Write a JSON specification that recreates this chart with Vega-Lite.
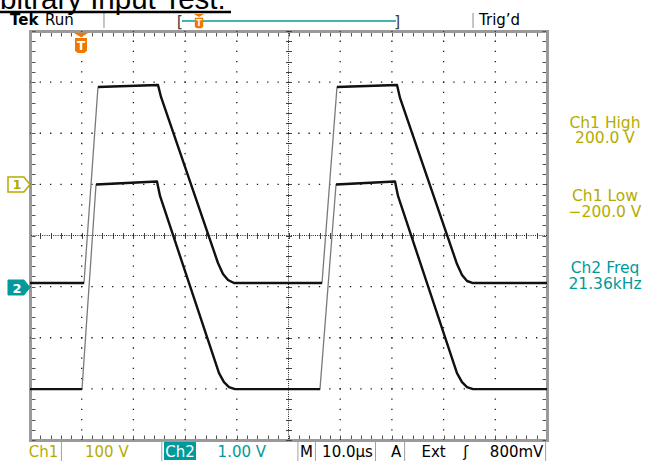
{
  "$schema": "https://vega.github.io/schema/vega-lite/v6.json",
  "width": 517,
  "height": 409,
  "autosize": {"type": "none"},
  "padding": {"left": 30, "top": 31, "right": 100, "bottom": 21},
  "background": "white",
  "config": {"view": {"stroke": null}},
  "datasets": {
    "traces": [
      {"ch": "Ch2", "part": "p0", "t": 0, "v": -0.93},
      {"ch": "Ch2", "part": "p0", "t": 1.044, "v": -0.93},
      {"ch": "Ch2", "part": "p1", "t": 1.315, "v": 2.906},
      {"ch": "Ch2", "part": "p1", "t": 2.476, "v": 2.945},
      {"ch": "Ch2", "part": "p1", "t": 2.534, "v": 2.71},
      {"ch": "Ch2", "part": "p1", "t": 3.636, "v": -0.538},
      {"ch": "Ch2", "part": "p1", "t": 3.733, "v": -0.753},
      {"ch": "Ch2", "part": "p1", "t": 3.83, "v": -0.871},
      {"ch": "Ch2", "part": "p1", "t": 3.946, "v": -0.93},
      {"ch": "Ch2", "part": "p1", "t": 5.648, "v": -0.93},
      {"ch": "Ch2", "part": "p2", "t": 5.938, "v": 2.906},
      {"ch": "Ch2", "part": "p2", "t": 7.099, "v": 2.945},
      {"ch": "Ch2", "part": "p2", "t": 7.157, "v": 2.691},
      {"ch": "Ch2", "part": "p2", "t": 8.259, "v": -0.558},
      {"ch": "Ch2", "part": "p2", "t": 8.356, "v": -0.773},
      {"ch": "Ch2", "part": "p2", "t": 8.453, "v": -0.89},
      {"ch": "Ch2", "part": "p2", "t": 8.569, "v": -0.93},
      {"ch": "Ch2", "part": "p2", "t": 10, "v": -0.93},
      {"ch": "Ch1", "part": "p0", "t": 0, "v": -3.004},
      {"ch": "Ch1", "part": "p0", "t": 1.006, "v": -3.004},
      {"ch": "Ch1", "part": "p1", "t": 1.277, "v": 0.998},
      {"ch": "Ch1", "part": "p1", "t": 2.456, "v": 1.057},
      {"ch": "Ch1", "part": "p1", "t": 2.515, "v": 0.773},
      {"ch": "Ch1", "part": "p1", "t": 3.656, "v": -2.691},
      {"ch": "Ch1", "part": "p1", "t": 3.752, "v": -2.867},
      {"ch": "Ch1", "part": "p1", "t": 3.849, "v": -2.965},
      {"ch": "Ch1", "part": "p1", "t": 3.965, "v": -3.004},
      {"ch": "Ch1", "part": "p1", "t": 5.609, "v": -3.004},
      {"ch": "Ch1", "part": "p2", "t": 5.919, "v": 0.998},
      {"ch": "Ch1", "part": "p2", "t": 7.06, "v": 1.057},
      {"ch": "Ch1", "part": "p2", "t": 7.118, "v": 0.773},
      {"ch": "Ch1", "part": "p2", "t": 8.259, "v": -2.691},
      {"ch": "Ch1", "part": "p2", "t": 8.356, "v": -2.867},
      {"ch": "Ch1", "part": "p2", "t": 8.453, "v": -2.965},
      {"ch": "Ch1", "part": "p2", "t": 8.569, "v": -3.004},
      {"ch": "Ch1", "part": "p2", "t": 10, "v": -3.004}
    ],
    "gridX": [{"t": 1}, {"t": 2}, {"t": 3}, {"t": 4}, {"t": 6}, {"t": 7}, {"t": 8}, {"t": 9}],
    "gridY": [{"v": -3}, {"v": -2}, {"v": -1}, {"v": 1}, {"v": 2}, {"v": 3}],
    "centerX": [{"t": 5}],
    "centerY": [{"v": 0}],
    "readouts": [
      {"txt": "Ch1 High", "t": 11.122, "v": 2.103, "kind": "ch1"},
      {"txt": "200.0 V", "t": 11.122, "v": 1.809, "kind": "ch1"},
      {"txt": "Ch1 Low", "t": 11.122, "v": 0.675, "kind": "ch1"},
      {"txt": "−200.0 V", "t": 11.122, "v": 0.362, "kind": "ch1"},
      {"txt": "Ch2 Freq", "t": 11.122, "v": -0.733, "kind": "ch2"},
      {"txt": "21.36kHz", "t": 11.122, "v": -1.046, "kind": "ch2"}
    ],
    "labels": [
      {"txt": "Ch1", "t": 0.261, "v": -4.342, "kind": "ch1"},
      {"txt": "100 V", "t": 1.486, "v": -4.342, "kind": "ch1"},
      {"txt": "Ch2", "t": 2.901, "v": -4.342, "kind": "inv"},
      {"txt": "1.00 V", "t": 4.097, "v": -4.342, "kind": "ch2"},
      {"txt": "M", "t": 5.348, "v": -4.342, "kind": "sys"},
      {"txt": "10.0µs", "t": 6.141, "v": -4.342, "kind": "sys"},
      {"txt": "A", "t": 7.08, "v": -4.342, "kind": "sys"},
      {"txt": "Ext", "t": 7.806, "v": -4.342, "kind": "sys"},
      {"txt": "ʃ", "t": 8.43, "v": -4.342, "kind": "sys"},
      {"txt": "800mV", "t": 9.412, "v": -4.342, "kind": "sys"}
    ],
    "markerText": [
      {"txt": "1", "t": -0.251, "v": 0.91, "kind": "ch1"},
      {"txt": "2", "t": -0.251, "v": -1.115, "kind": "inv"}
    ],
    "chMarkers": [
      {"ch": "1", "t": -0.213, "v": 0.998},
      {"ch": "2", "t": -0.213, "v": -1.017}
    ],
    "logo": [{"txt": "Tek", "t": -0.387, "v": 4.108}],
    "header": [
      {"txt": "Run", "t": 0.29, "v": 4.108},
      {"txt": "Trig’d", "t": 8.685, "v": 4.108}
    ],
    "brackets": [
      {"txt": "[", "t": 2.901, "v": 4.088},
      {"txt": "]", "t": 7.099, "v": 4.088}
    ],
    "topSeps": [{"t": 1.431}, {"t": 8.569}],
    "botSeps": [{"t": 0.608}, {"t": 2.549}, {"t": 5.182}, {"t": 5.521}, {"t": 6.683}, {"t": 7.246}, {"t": 9.973}],
    "title": [{"txt": "bitrary Input Test:", "t": -0.58, "v": 4.44}],
    "trigger": [{"where": "plot", "t": 0.986}, {"where": "record", "t": 3.269}]
  },
  "layer": [
    {
      "data": {"name": "gridX"},
      "mark": {"type": "rule", "color": "#1a1a1a", "strokeWidth": 1.3, "strokeDash": [1.3, 8.925], "strokeDashOffset": 0.65},
      "encoding": {
        "x": {"field": "t", "type": "quantitative", "scale": {"domain": [0, 10], "nice": false, "zero": false},
          "axis": {"orient": "top", "values": [0,0.2,0.4,0.6,0.8,1,1.2,1.4,1.6,1.8,2,2.2,2.4,2.6,2.8,3,3.2,3.4,3.6,3.8,4,4.2,4.4,4.6,4.8,5,5.2,5.4,5.6,5.8,6,6.2,6.4,6.6,6.8,7,7.2,7.4,7.6,7.8,8,8.2,8.4,8.6,8.8,9,9.2,9.4,9.6,9.8,10], "tickSize": -5, "tickColor": "#555555", "tickWidth": 1, "domain": true, "domainColor": "#9a9a9a", "domainWidth": 3, "domainCap": "square", "labels": false, "grid": false, "title": null}}
      }
    },
    {
      "data": {"name": "gridY"},
      "mark": {"type": "rule", "color": "#1a1a1a", "strokeWidth": 1.3, "strokeDash": [1.3, 9.04], "strokeDashOffset": 0.65},
      "encoding": {
        "y": {"field": "v", "type": "quantitative", "scale": {"domain": [-4, 4], "nice": false, "zero": false},
          "axis": {"orient": "right", "values": [-4,-3.8,-3.6,-3.4,-3.2,-3,-2.8,-2.6,-2.4,-2.2,-2,-1.8,-1.6,-1.4,-1.2,-1,-0.8,-0.6,-0.4,-0.2,0,0.2,0.4,0.6,0.8,1,1.2,1.4,1.6,1.8,2,2.2,2.4,2.6,2.8,3,3.2,3.4,3.6,3.8,4], "tickSize": -5, "tickColor": "#555555", "tickWidth": 1, "domain": true, "domainColor": "#9a9a9a", "domainWidth": 3, "domainCap": "square", "labels": false, "grid": false, "title": null}}
      }
    },
    {
      "data": {"name": "centerX"},
      "mark": {"type": "rule", "color": "#222222", "strokeWidth": 1, "strokeDash": [1, 1.2]},
      "encoding": {
        "x": {"field": "t", "type": "quantitative", "scale": {"domain": [0, 10], "nice": false, "zero": false},
          "axis": {"orient": "bottom", "offset": -204.5, "values": [0,0.2,0.4,0.6,0.8,1,1.2,1.4,1.6,1.8,2,2.2,2.4,2.6,2.8,3,3.2,3.4,3.6,3.8,4,4.2,4.4,4.6,4.8,5,5.2,5.4,5.6,5.8,6,6.2,6.4,6.6,6.8,7,7.2,7.4,7.6,7.8,8,8.2,8.4,8.6,8.8,9,9.2,9.4,9.6,9.8,10], "tickSize": 3, "tickColor": "#444444", "tickWidth": 1, "domain": false, "labels": false, "grid": false, "title": null}}
      }
    },
    {
      "data": {"name": "centerY"},
      "mark": {"type": "rule", "color": "#222222", "strokeWidth": 1, "strokeDash": [1, 1.2]},
      "encoding": {
        "y": {"field": "v", "type": "quantitative", "scale": {"domain": [-4, 4], "nice": false, "zero": false},
          "axis": {"orient": "left", "offset": -258.5, "values": [-4,-3.8,-3.6,-3.4,-3.2,-3,-2.8,-2.6,-2.4,-2.2,-2,-1.8,-1.6,-1.4,-1.2,-1,-0.8,-0.6,-0.4,-0.2,0,0.2,0.4,0.6,0.8,1,1.2,1.4,1.6,1.8,2,2.2,2.4,2.6,2.8,3,3.2,3.4,3.6,3.8,4], "tickSize": 3, "tickColor": "#444444", "tickWidth": 1, "domain": false, "labels": false, "grid": false, "title": null}}
      }
    },
    {
      "data": {"name": "traces"},
      "mark": {"type": "line", "color": "#7a7a7a", "strokeWidth": 1.3, "strokeJoin": "round"},
      "encoding": {
        "x": {"field": "t", "type": "quantitative", "scale": {"domain": [0, 10], "nice": false, "zero": false},
          "axis": {"orient": "bottom", "values": [0,0.2,0.4,0.6,0.8,1,1.2,1.4,1.6,1.8,2,2.2,2.4,2.6,2.8,3,3.2,3.4,3.6,3.8,4,4.2,4.4,4.6,4.8,5,5.2,5.4,5.6,5.8,6,6.2,6.4,6.6,6.8,7,7.2,7.4,7.6,7.8,8,8.2,8.4,8.6,8.8,9,9.2,9.4,9.6,9.8,10], "tickSize": -5, "tickColor": "#555555", "tickWidth": 1, "domain": true, "domainColor": "#9a9a9a", "domainWidth": 3, "domainCap": "square", "labels": false, "grid": false, "title": null}},
        "y": {"field": "v", "type": "quantitative", "scale": {"domain": [-4, 4], "nice": false, "zero": false},
          "axis": {"orient": "left", "values": [-4,-3.8,-3.6,-3.4,-3.2,-3,-2.8,-2.6,-2.4,-2.2,-2,-1.8,-1.6,-1.4,-1.2,-1,-0.8,-0.6,-0.4,-0.2,0,0.2,0.4,0.6,0.8,1,1.2,1.4,1.6,1.8,2,2.2,2.4,2.6,2.8,3,3.2,3.4,3.6,3.8,4], "tickSize": -5, "tickColor": "#555555", "tickWidth": 1, "domain": true, "domainColor": "#9a9a9a", "domainWidth": 3, "domainCap": "square", "labels": false, "grid": false, "title": null}},
        "detail": {"field": "ch"}
      }
    },
    {
      "data": {"name": "traces"},
      "mark": {"type": "line", "color": "#111111", "strokeWidth": 2.4, "strokeJoin": "round"},
      "encoding": {
        "x": {"field": "t", "type": "quantitative", "axis": null},
        "y": {"field": "v", "type": "quantitative", "axis": null},
        "detail": [{"field": "ch"}, {"field": "part"}]
      }
    },
    {
      "data": {"name": "chMarkers"},
      "transform": [{"filter": "datum.ch == '1'"}],
      "mark": {"type": "point", "shape": "M-1,-0.68L0.45,-0.68L1,0L0.45,0.68L-1,0.68Z", "size": 484, "filled": true, "fill": "#ffffff", "stroke": "#b4ac00", "strokeWidth": 1.5, "opacity": 1},
      "encoding": {
        "x": {"field": "t", "type": "quantitative",
          "axis": {"orient": "top", "offset": -204.5, "values": [0,0.2,0.4,0.6,0.8,1,1.2,1.4,1.6,1.8,2,2.2,2.4,2.6,2.8,3,3.2,3.4,3.6,3.8,4,4.2,4.4,4.6,4.8,5,5.2,5.4,5.6,5.8,6,6.2,6.4,6.6,6.8,7,7.2,7.4,7.6,7.8,8,8.2,8.4,8.6,8.8,9,9.2,9.4,9.6,9.8,10], "tickSize": 3, "tickColor": "#444444", "tickWidth": 1, "domain": false, "labels": false, "grid": false, "title": null}},
        "y": {"field": "v", "type": "quantitative",
          "axis": {"orient": "right", "offset": -258.5, "values": [-4,-3.8,-3.6,-3.4,-3.2,-3,-2.8,-2.6,-2.4,-2.2,-2,-1.8,-1.6,-1.4,-1.2,-1,-0.8,-0.6,-0.4,-0.2,0,0.2,0.4,0.6,0.8,1,1.2,1.4,1.6,1.8,2,2.2,2.4,2.6,2.8,3,3.2,3.4,3.6,3.8,4], "tickSize": 3, "tickColor": "#444444", "tickWidth": 1, "domain": false, "labels": false, "grid": false, "title": null}}
      }
    },
    {
      "data": {"name": "chMarkers"},
      "transform": [{"filter": "datum.ch == '2'"}],
      "mark": {"type": "point", "shape": "M-1,-0.68L0.45,-0.68L1,0L0.45,0.68L-1,0.68Z", "size": 484, "filled": true, "fill": "#009a9a", "stroke": "#009a9a", "strokeWidth": 1, "opacity": 1},
      "encoding": {
        "x": {"field": "t", "type": "quantitative", "axis": null},
        "y": {"field": "v", "type": "quantitative", "axis": null}
      }
    },
    {
      "data": {"name": "trigger"},
      "transform": [{"filter": "datum.where == 'plot'"}],
      "mark": {"type": "point", "shape": "M-1,-0.3L1,-0.3L0,0.3Z", "size": 225, "filled": true, "color": "#f07800", "opacity": 1},
      "encoding": {
        "x": {"field": "t", "type": "quantitative", "axis": null},
        "y": {"datum": 3.922, "type": "quantitative", "axis": null}
      }
    },
    {
      "data": {"name": "trigger"},
      "transform": [{"filter": "datum.where == 'plot'"}],
      "mark": {"type": "point", "shape": "M-0.8,-1L0.8,-1L0.8,0.7L0.45,1L-0.45,1L-0.8,0.7Z", "size": 225, "filled": true, "color": "#f07800", "opacity": 1},
      "encoding": {
        "x": {"field": "t", "type": "quantitative", "axis": null},
        "y": {"datum": 3.716, "type": "quantitative", "axis": null}
      }
    },
    {
      "data": {"name": "trigger"},
      "transform": [{"filter": "datum.where == 'plot'"}],
      "mark": {"type": "text", "text": "T", "font": "DejaVu Sans", "fontWeight": "bold", "fontSize": 12, "align": "center", "baseline": "alphabetic", "color": "#ffffff"},
      "encoding": {
        "x": {"field": "t", "type": "quantitative", "axis": null},
        "y": {"datum": 3.619, "type": "quantitative", "axis": null}
      }
    },
    {
      "data": {"name": "topSeps"},
      "mark": {"type": "rule", "color": "#8c8c8c", "strokeWidth": 1},
      "encoding": {
        "x": {"field": "t", "type": "quantitative", "axis": null},
        "y": {"datum": 4.352, "type": "quantitative", "axis": null},
        "y2": {"datum": 4.059}
      }
    },
    {
      "data": {"values": [{}]},
      "mark": {"type": "rule", "color": "#009a9a", "strokeWidth": 1.5},
      "encoding": {
        "x": {"datum": 2.94, "type": "quantitative", "axis": null},
        "x2": {"datum": 7.079},
        "y": {"datum": 4.195, "type": "quantitative", "axis": null}
      }
    },
    {
      "data": {"name": "brackets"},
      "mark": {"type": "text", "font": "DejaVu Sans", "fontSize": 16, "align": "center", "baseline": "alphabetic", "color": "#444444"},
      "encoding": {
        "x": {"field": "t", "type": "quantitative", "axis": null},
        "y": {"field": "v", "type": "quantitative", "axis": null},
        "text": {"field": "txt"}
      }
    },
    {
      "data": {"name": "trigger"},
      "transform": [{"filter": "datum.where == 'record'"}],
      "mark": {"type": "point", "shape": "M-1,-0.3L1,-0.3L0,0.3Z", "size": 100, "filled": true, "color": "#f07800", "opacity": 1},
      "encoding": {
        "x": {"field": "t", "type": "quantitative", "axis": null},
        "y": {"datum": 4.303, "type": "quantitative", "axis": null}
      }
    },
    {
      "data": {"name": "trigger"},
      "transform": [{"filter": "datum.where == 'record'"}],
      "mark": {"type": "point", "shape": "M-0.8,-1L0.8,-1L0.8,0.7L0.45,1L-0.45,1L-0.8,0.7Z", "size": 110, "filled": true, "color": "#f07800", "opacity": 1},
      "encoding": {
        "x": {"field": "t", "type": "quantitative", "axis": null},
        "y": {"datum": 4.156, "type": "quantitative", "axis": null}
      }
    },
    {
      "data": {"name": "trigger"},
      "transform": [{"filter": "datum.where == 'record'"}],
      "mark": {"type": "text", "text": "T", "font": "DejaVu Sans", "fontWeight": "bold", "fontSize": 8, "align": "center", "baseline": "alphabetic", "color": "#ffffff"},
      "encoding": {
        "x": {"field": "t", "type": "quantitative", "axis": null},
        "y": {"datum": 4.095, "type": "quantitative", "axis": null}
      }
    },
    {
      "data": {"name": "logo"},
      "mark": {"type": "text", "font": "DejaVu Sans", "fontWeight": "bold", "fontSize": 15, "align": "left", "baseline": "alphabetic", "color": "#000000"},
      "encoding": {
        "x": {"field": "t", "type": "quantitative", "axis": null},
        "y": {"field": "v", "type": "quantitative", "axis": null},
        "text": {"field": "txt"}
      }
    },
    {
      "data": {"name": "header"},
      "mark": {"type": "text", "font": "DejaVu Sans", "fontSize": 15, "align": "left", "baseline": "alphabetic", "color": "#000000"},
      "encoding": {
        "x": {"field": "t", "type": "quantitative", "axis": null},
        "y": {"field": "v", "type": "quantitative", "axis": null},
        "text": {"field": "txt"}
      }
    },
    {
      "data": {"name": "title"},
      "mark": {"type": "text", "font": "Liberation Sans", "fontSize": 29.5, "align": "left", "baseline": "alphabetic", "color": "#000000"},
      "encoding": {
        "x": {"field": "t", "type": "quantitative", "axis": null},
        "y": {"field": "v", "type": "quantitative", "axis": null},
        "text": {"field": "txt"}
      }
    },
    {
      "data": {"values": [{}]},
      "mark": {"type": "rule", "color": "#000000", "strokeWidth": 2.5},
      "encoding": {
        "x": {"datum": -0.58, "type": "quantitative", "axis": null},
        "x2": {"datum": 3.888},
        "y": {"datum": 4.372, "type": "quantitative", "axis": null}
      }
    },
    {
      "data": {"name": "botSeps"},
      "mark": {"type": "rule", "color": "#a0a0a0", "strokeWidth": 1},
      "encoding": {
        "x": {"field": "t", "type": "quantitative", "axis": null},
        "y": {"datum": -4.02, "type": "quantitative", "axis": null},
        "y2": {"datum": -4.411}
      }
    },
    {
      "data": {"values": [{}]},
      "mark": {"type": "rect", "color": "#009a9a"},
      "encoding": {
        "x": {"datum": 2.592, "type": "quantitative", "axis": null},
        "x2": {"datum": 3.211},
        "y": {"datum": -4.039, "type": "quantitative", "axis": null},
        "y2": {"datum": -4.391}
      }
    },
    {
      "data": {"name": "labels"},
      "mark": {"type": "text", "font": "DejaVu Sans", "fontSize": 15, "align": "center", "baseline": "alphabetic"},
      "encoding": {
        "x": {"field": "t", "type": "quantitative", "axis": null},
        "y": {"field": "v", "type": "quantitative", "axis": null},
        "text": {"field": "txt"},
        "color": {"field": "kind", "type": "nominal", "scale": {"domain": ["ch1", "ch2", "sys", "inv"], "range": ["#b4ac00", "#009a9a", "#000000", "#ffffff"]}, "legend": null}
      }
    },
    {
      "data": {"name": "readouts"},
      "mark": {"type": "text", "font": "DejaVu Sans", "fontSize": 15.5, "align": "center", "baseline": "alphabetic"},
      "encoding": {
        "x": {"field": "t", "type": "quantitative", "axis": null},
        "y": {"field": "v", "type": "quantitative", "axis": null},
        "text": {"field": "txt"},
        "color": {"field": "kind", "type": "nominal", "scale": {"domain": ["ch1", "ch2", "sys", "inv"], "range": ["#b4ac00", "#009a9a", "#000000", "#ffffff"]}, "legend": null}
      }
    },
    {
      "data": {"name": "markerText"},
      "mark": {"type": "text", "font": "DejaVu Sans", "fontSize": 13, "fontWeight": "bold", "align": "center", "baseline": "alphabetic"},
      "encoding": {
        "x": {"field": "t", "type": "quantitative", "axis": null},
        "y": {"field": "v", "type": "quantitative", "axis": null},
        "text": {"field": "txt"},
        "color": {"field": "kind", "type": "nominal", "scale": {"domain": ["ch1", "ch2", "sys", "inv"], "range": ["#b4ac00", "#009a9a", "#000000", "#ffffff"]}, "legend": null}
      }
    }
  ],
  "resolve": {"axis": {"x": "independent", "y": "independent"}}
}
